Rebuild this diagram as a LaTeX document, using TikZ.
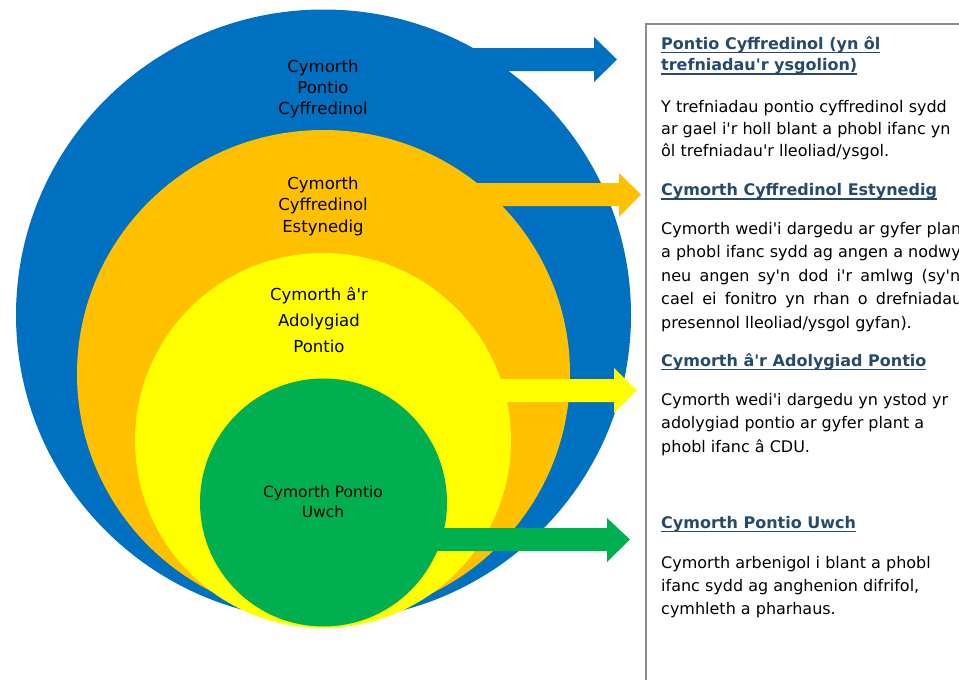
\documentclass[tikz,border=0pt]{standalone}
\usepackage{fontspec}
\setmainfont{DejaVu Sans}
\newcommand{\myul}[1]{\setbox0=\hbox{#1}\rlap{\rule[-4pt]{\wd0}{1.5pt}}\box0}
\newcommand{\apos}{\textquotesingle}
\definecolor{cblue}{HTML}{0070C0}
\definecolor{corange}{HTML}{FFC000}
\definecolor{cyellow}{HTML}{FFFF00}
\definecolor{cgreen}{HTML}{00B050}
\definecolor{headc}{HTML}{274A6B}
\definecolor{boxc}{HTML}{8C8C8C}
\tikzset{
  lbl/.style={anchor=base, inner sep=0pt, font=\fontsize{16.5}{21}\selectfont, text=black},
  txt/.style={anchor=base west, inner sep=0pt, font=\fontsize{16}{19}\selectfont, text=black},
  head/.style={anchor=base west, inner sep=0pt, font=\bfseries\fontsize{16}{19}\selectfont, text=headc},
}
\begin{document}
\begin{tikzpicture}[x=1pt,y=-1pt]
\useasboundingbox (0,0) rectangle (959,680);
% circles
\fill[cblue] (323.5,315) ellipse [x radius=307.5, y radius=305.5];
\fill[corange] (323.5,374) ellipse [x radius=246.5, y radius=244];
\fill[cyellow] (323,440.5) ellipse [x radius=188, y radius=187.5];
\fill[cgreen] (323.5,502.5) ellipse [x radius=123.5, y radius=124];
% block arrows
\fill[cblue] (440,48) -- (594,48) -- (594,37) -- (617,59.5) -- (594,82) -- (594,71) -- (440,71) -- cycle;
\fill[corange] (440,183) -- (619,183) -- (619,173) -- (641,194.5) -- (619,217) -- (619,206) -- (440,206) -- cycle;
\fill[cyellow] (450,379) -- (614,379) -- (614,368) -- (637,390.5) -- (614,413) -- (614,402) -- (450,402) -- cycle;
\fill[cgreen] (400,528) -- (607,528) -- (607,518) -- (630,539.5) -- (607,562) -- (607,551) -- (400,551) -- cycle;
% circle labels
\node[lbl] (b1) at (323,72.5) {Cymorth};
\node[lbl] (b2) at (323,93.5) {Pontio};
\node[lbl] (b3) at (323,114.5) {Cyffredinol};
\node[lbl] (o1) at (323,189) {Cymorth};
\node[lbl] (o2) at (323,210.5) {Cyffredinol};
\node[lbl] (o3) at (323,232) {Estynedig};
\node[lbl] (y1) at (319,300) {Cymorth â\apos r};
\node[lbl] (y2) at (319,326) {Adolygiad};
\node[lbl] (y3) at (319,352) {Pontio};
\node[lbl, font=\fontsize{15.5}{19}\selectfont] (g1) at (323,497.5) {Cymorth Pontio};
\node[lbl, font=\fontsize{15.5}{19}\selectfont] (g2) at (323,517) {Uwch};
% text box
\draw[boxc, line width=1.4pt] (646,24) rectangle (980,700);
\node[head] (h1a) at (661,49) {\myul{Pontio Cyffredinol (yn ôl}};
\node[head] (h1b) at (661,70.5) {\myul{trefniadau\apos r ysgolion)}};
\node[txt] (p1a) at (661,112) {Y trefniadau pontio cyffredinol sydd};
\node[txt] (p1b) at (661,134) {ar gael i\apos r holl blant a phobl ifanc yn};
\node[txt] (p1c) at (661,156.5) {ôl trefniadau\apos r lleoliad/ysgol.};
\node[head] (h2) at (661,195.5) {\myul{Cymorth Cyffredinol Estynedig}};
\node[txt] (p2a) at (661,234) {Cymorth wedi\apos i dargedu ar gyfer plant};
\node[txt] (p2b) at (661,257.5) {a phobl ifanc sydd ag angen a nodwydd};
\node[txt] (p2c) at (661,281) {\makebox[299pt][s]{neu angen sy\apos n dod i\apos r amlwg (sy\apos n}};
\node[txt] (p2d) at (661,304.5) {\makebox[312pt][s]{cael ei fonitro yn rhan o drefniadau\apos r}};
\node[txt] (p2e) at (661,328.5) {presennol lleoliad/ysgol gyfan).};
\node[head] (h3) at (661,366) {\myul{Cymorth â\apos r Adolygiad Pontio}};
\node[txt] (p3a) at (661,405) {Cymorth wedi\apos i dargedu yn ystod yr};
\node[txt] (p3b) at (661,428.5) {adolygiad pontio ar gyfer plant a};
\node[txt] (p3c) at (661,452) {phobl ifanc â CDU.};
\node[head] (h4) at (661,528) {\myul{Cymorth Pontio Uwch}};
\node[txt] (p4a) at (661,568) {Cymorth arbenigol i blant a phobl};
\node[txt] (p4b) at (661,591) {ifanc sydd ag anghenion difrifol,};
\node[txt] (p4c) at (661,614) {cymhleth a pharhaus.};
\end{tikzpicture}
\end{document}
